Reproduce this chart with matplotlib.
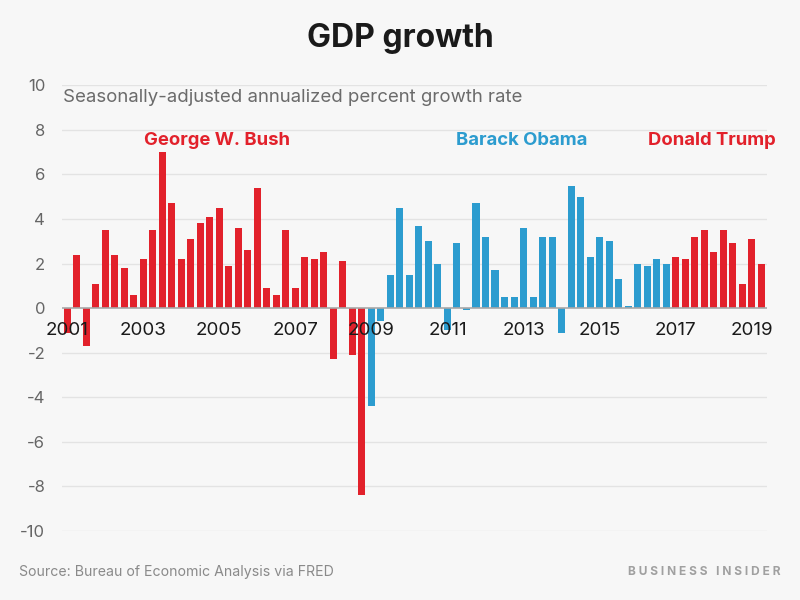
import matplotlib.pyplot as plt

plt.rcParams['font.family'] = ['Inter', 'DejaVu Sans']

# Quarterly real GDP growth, 2001 Q1 - 2019 Q2
bush = [-1.1, 2.4, -1.7, 1.1, 3.5, 2.4, 1.8, 0.6,
        2.2, 3.5, 7.0, 4.7, 2.2, 3.1, 3.8, 4.1,
        4.5, 1.9, 3.6, 2.6, 5.4, 0.9, 0.6, 3.5,
        0.9, 2.3, 2.2, 2.5, -2.3, 2.1, -2.1, -8.4]
obama = [-4.4, -0.6, 1.5, 4.5, 1.5, 3.7, 3.0, 2.0,
         -1.0, 2.9, -0.1, 4.7, 3.2, 1.7, 0.5, 0.5,
         3.6, 0.5, 3.2, 3.2, -1.1, 5.5, 5.0, 2.3,
         3.2, 3.0, 1.3, 0.1, 2.0, 1.9, 2.2, 2.0]
trump = [2.3, 2.2, 3.2, 3.5, 2.5, 3.5, 2.9, 1.1, 3.1, 2.0]
year_labels = ['2001', '2003', '2005', '2007', '2009', '2011', '2013', '2015', '2017', '2019']

RED = '#e2212b'
BLUE = '#2c9ccf'
BG = '#f7f7f7'

values = bush + obama + trump
colors = [RED] * len(bush) + [BLUE] * len(obama) + [RED] * len(trump)
x = list(range(len(values)))

fig = plt.figure(figsize=(8, 6), dpi=100, facecolor=BG)
ax = fig.add_axes([0.0775, 0.115, 0.88125, 0.743])
ax.set_facecolor(BG)

ax.bar(x, values, width=0.74, color=colors, zorder=2)

ax.set_ylim(-10, 10)
ax.set_xlim(-0.53, 73.6)
ax.set_yticks(range(-10, 11, 2))
ax.set_yticklabels([str(v) for v in range(-10, 11, 2)], fontsize=12, color='#666666')
ax.set_xticks([])
ax.tick_params(axis='y', length=0, pad=12)
for s in ax.spines.values():
    s.set_visible(False)
for v in range(-10, 11, 2):
    if v != 0:
        ax.axhline(v, color='#e3e3e3', lw=1, zorder=0)
ax.axhline(0, color='#a8a8a8', lw=1.2, zorder=3)

# year labels sit on the Q1 bar of each odd year, drawn over the bars
for k, lab in enumerate(year_labels):
    ax.text(k * 8, -1.0, lab, ha='center', va='center', fontsize=13.5,
            color='#1a1a1a', zorder=4)

ax.text(15.8, 7.5, 'George W. Bush', ha='center', va='center', fontsize=13.3,
        fontweight='bold', color=RED)
ax.text(47.8, 7.5, 'Barack Obama', ha='center', va='center', fontsize=13.3,
        fontweight='bold', color=BLUE)
ax.text(67.8, 7.5, 'Donald Trump', ha='center', va='center', fontsize=13.3,
        fontweight='bold', color=RED)

fig.text(0.5, 1 - 38 / 600, 'GDP growth', ha='center', va='center', fontsize=23,
         fontweight='bold', color='#1a1a1a')
fig.text(63 / 800, 1 - 97 / 600, 'Seasonally-adjusted annualized percent growth rate',
         ha='left', va='center', fontsize=13.4, color='#6b6b6b')
fig.text(19 / 800, 1 - 572 / 600, 'Source: Bureau of Economic Analysis via FRED',
         ha='left', va='center', fontsize=10.2, color='#8a8a8a')
fig.text(780 / 800, 1 - 572 / 600, 'B U S I N E S S   I N S I D E R', ha='right', va='center',
         fontsize=8.6, fontweight='bold', color='#a0a0a0')

fig.savefig('out.png', dpi=100, facecolor=BG)
